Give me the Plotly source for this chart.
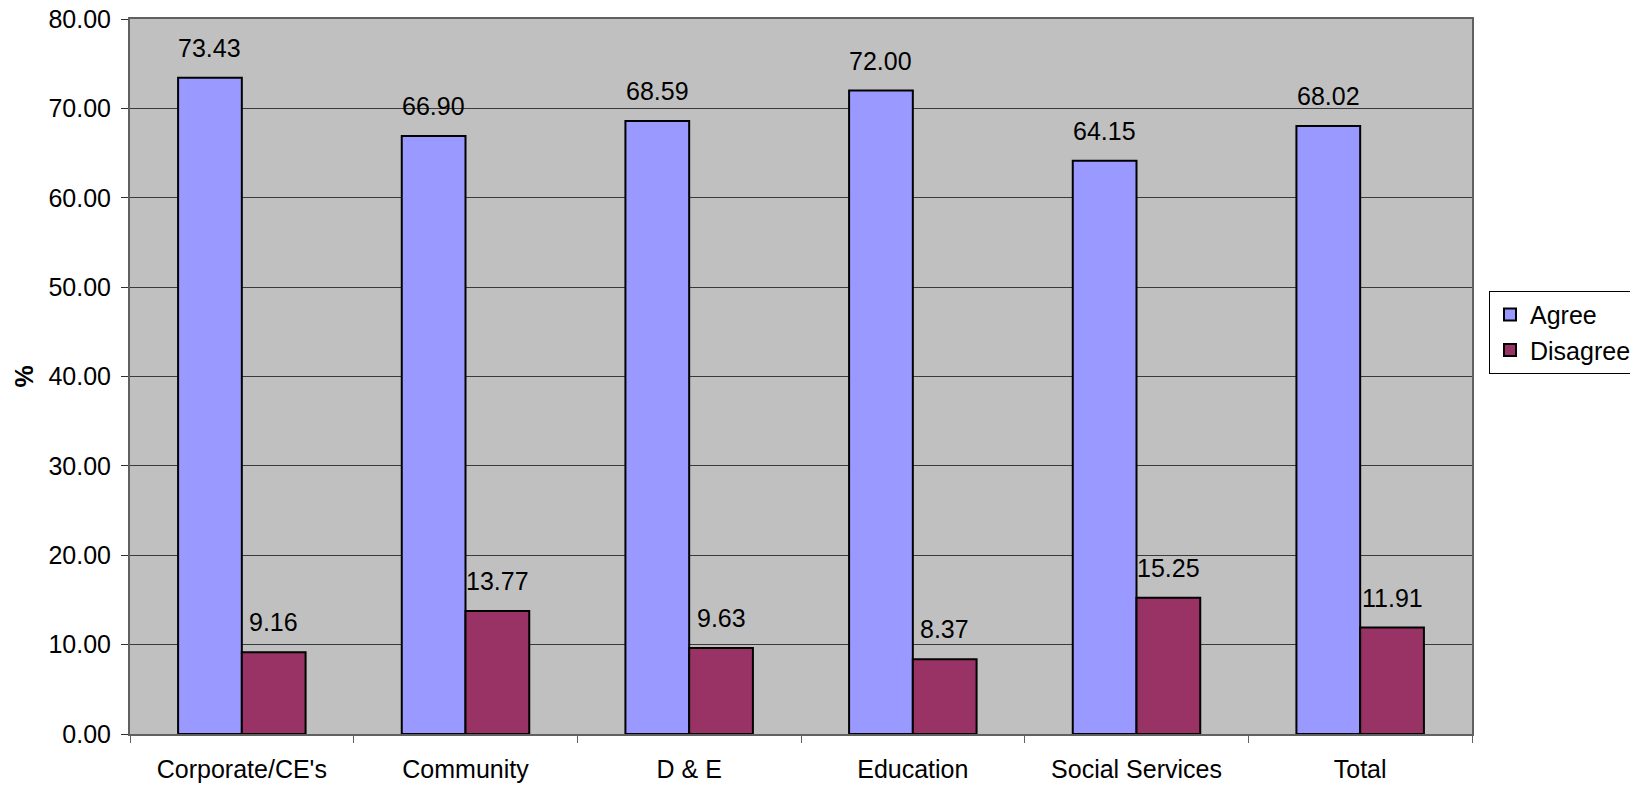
import plotly.graph_objects as go

categories = ["Corporate/CE's", "Community", "D & E", "Education", "Social Services", "Total"]
agree = [73.43, 66.90, 68.59, 72.00, 64.15, 68.02]
disagree = [9.16, 13.77, 9.63, 8.37, 15.25, 11.91]
y_ticks = [0, 10, 20, 30, 40, 50, 60, 70, 80]

FONT = "Liberation Sans, Arial, sans-serif"
FS = 25
BARGAP = 0.43

fig = go.Figure()
fig.add_trace(go.Bar(name="Agree", x=categories, y=agree,
                     marker=dict(color="#9999FF", line=dict(color="#000000", width=2))))
fig.add_trace(go.Bar(name="Disagree", x=categories, y=disagree,
                     marker=dict(color="#993366", line=dict(color="#000000", width=2))))

# value labels above each bar
half = (1 - BARGAP) / 4
for i, (a, d) in enumerate(zip(agree, disagree)):
    for val, off in ((a, -half), (d, half)):
        fig.add_annotation(x=i + off, y=val, xref="x", yref="y", text=f"{val:.2f}",
                           showarrow=False, yanchor="bottom", yshift=14,
                           font=dict(family=FONT, size=FS, color="#000000"))

# y-axis title
fig.add_annotation(x=(23 - 130) / 1342, xref="paper", y=0.5, yref="paper", text="<b>%</b>",
                   showarrow=False, textangle=-90, xanchor="center",
                   font=dict(family=FONT, size=FS, color="#000000"))

fig.update_layout(
    width=1630, height=808,
    margin=dict(l=130, r=158, t=19, b=74, autoexpand=False),
    paper_bgcolor="#FFFFFF", plot_bgcolor="#C0C0C0",
    barmode="group", bargap=BARGAP, bargroupgap=0,
    font=dict(family=FONT, size=FS, color="#000000"),
    showlegend=True,
    legend=dict(x=(1489 - 130) / 1342, y=0.62, xanchor="left", yanchor="top",
                bgcolor="#FFFFFF", bordercolor="#000000", borderwidth=1,
                font=dict(family=FONT, size=FS, color="#000000"), tracegroupgap=0),
    xaxis=dict(type="category", showgrid=False, showline=True, linecolor="#606060", linewidth=2,
               ticks="outside", tickson="boundaries", ticklen=7, tickcolor="#606060", tickwidth=1,
               mirror=True, ticklabelstandoff=12, tickfont=dict(family=FONT, size=FS)),
    yaxis=dict(range=[0, 80], tickvals=y_ticks, tickformat=".2f", showgrid=True,
               gridcolor="#3a3a3a", gridwidth=1, showline=True, linecolor="#606060", linewidth=2,
               mirror=True, ticks="outside", ticklen=7, tickcolor="#303030", zeroline=False,
               ticklabelstandoff=5, tickfont=dict(family=FONT, size=FS)),
)

fig.write_html("out.html")
